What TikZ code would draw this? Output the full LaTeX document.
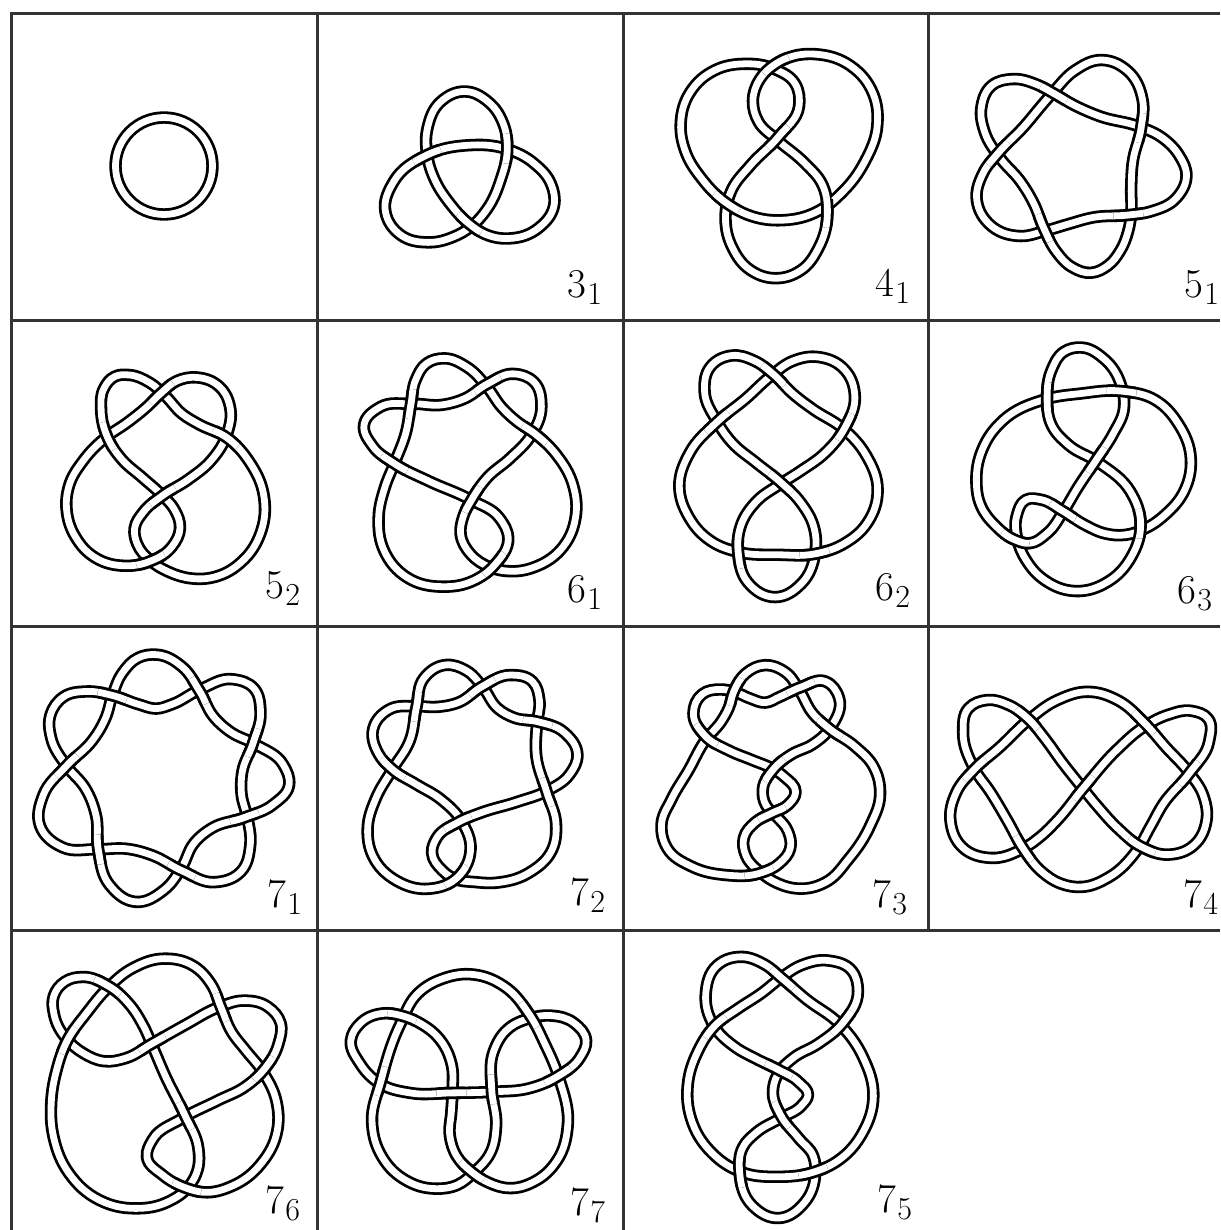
\documentclass[tikz,border=0pt]{standalone}
\newcount\kn
\def\oo{o}
\newcommand\klab[2]{{\fontsize{41}{41}\selectfont #1\kern1.5pt\raisebox{-7pt}{\fontsize{32}{32}\selectfont #2}}}
\tikzset{tubeout/.style={line width=12.4pt,black,line join=round},
  tubein/.style={line width=6.8pt,white,line join=round},
  gridline/.style={line width=3pt,draw=black!80},
  klabel/.style={anchor=base west,inner sep=0pt,outer sep=0pt}}
\newcommand\kget[2]{\csname k#1#2\endcsname}
% one relaxation pass over the points of the current knot
\newcommand\ksmooth[1]{%
  \foreach \i in {1,...,\kN}{%
    \pgfmathtruncatemacro\ip{mod(\i-2+\kN,\kN)+1}%
    \pgfmathtruncatemacro\iq{mod(\i,\kN)+1}%
    \edef\xa{\kget{X}{\ip}}\edef\ya{\kget{Y}{\ip}}%
    \edef\xb{\kget{X}{\i}}\edef\yb{\kget{Y}{\i}}%
    \edef\xc{\kget{X}{\iq}}\edef\yc{\kget{Y}{\iq}}%
    \pgfmathsetmacro\kpx{\xb+(#1)*((\xa+\xc)/2-\xb)}%
    \pgfmathsetmacro\kpy{\yb+(#1)*((\ya+\yc)/2-\yb)}%
    \expandafter\xdef\csname kA\i\endcsname{\kpx}%
    \expandafter\xdef\csname kB\i\endcsname{\kpy}%
  }%
  \foreach \i in {1,...,\kN}{%
    \expandafter\xdef\csname kX\i\endcsname{\kget{A}{\i}}%
    \expandafter\xdef\csname kY\i\endcsname{\kget{B}{\i}}%
  }%
}
% #1,#2 offset, #3 x scale, #4 points x/y or x/y/o (o = this strand passes over here)
\newcommand\knot[4]{%
  \global\kn=0 \gdef\kover{}%
  \foreach \x/\y/\kop in {#4}{%
    \global\advance\kn by 1
    \pgfmathsetmacro\kpx{#1+\x*#3}\pgfmathsetmacro\kpy{#2+\y*.33333}%
    \expandafter\xdef\csname kX\the\kn\endcsname{\kpx}%
    \expandafter\xdef\csname kY\the\kn\endcsname{\kpy}%
    \ifx\kop\oo\xdef\kover{\ifx\kover\empty\else\kover,\fi\the\kn}\fi
  }%
  \xdef\kN{\the\kn}%
  \ksmooth{.4}\ksmooth{-.42}%
  \foreach \i in {1,...,\kN}{%
    \pgfmathtruncatemacro\ip{mod(\i-2+\kN,\kN)+1}%
    \pgfmathtruncatemacro\iq{mod(\i,\kN)+1}%
    \edef\xa{\kget{X}{\ip}}\edef\ya{\kget{Y}{\ip}}%
    \edef\xb{\kget{X}{\i}}\edef\yb{\kget{Y}{\i}}%
    \edef\xc{\kget{X}{\iq}}\edef\yc{\kget{Y}{\iq}}%
    \pgfmathsetmacro\kla{veclen(\xb-\xa,\yb-\ya)}%
    \pgfmathsetmacro\klc{veclen(\xc-\xb,\yc-\yb)}%
    \pgfmathsetmacro\ktx{(\xb-\xa)/\kla*\klc+(\xc-\xb)/\klc*\kla}%
    \pgfmathsetmacro\kty{(\yb-\ya)/\kla*\klc+(\yc-\yb)/\klc*\kla}%
    \pgfmathsetmacro\ktl{veclen(\ktx,\kty)}%
    \pgfmathsetmacro\kux{\ktx/\ktl}\pgfmathsetmacro\kuy{\kty/\ktl}%
    \expandafter\xdef\csname kU\i\endcsname{\kux}%
    \expandafter\xdef\csname kV\i\endcsname{\kuy}%
    \expandafter\xdef\csname kL\i\endcsname{\klc}%
  }%
  \gdef\kP{}%
  \foreach \i in {1,...,\kN}{%
    \pgfmathtruncatemacro\iq{mod(\i,\kN)+1}%
    \edef\xb{\kget{X}{\i}}\edef\yb{\kget{Y}{\i}}%
    \edef\xc{\kget{X}{\iq}}\edef\yc{\kget{Y}{\iq}}%
    \edef\kh{\kget{L}{\i}}%
    \edef\ua{\kget{U}{\i}}\edef\va{\kget{V}{\i}}%
    \edef\ub{\kget{U}{\iq}}\edef\vb{\kget{V}{\iq}}%
    \pgfmathsetmacro\cax{\xb+\ua*\kh*.36}\pgfmathsetmacro\cay{\yb+\va*\kh*.36}%
    \pgfmathsetmacro\cbx{\xc-\ub*\kh*.36}\pgfmathsetmacro\cby{\yc-\vb*\kh*.36}%
    \expandafter\xdef\csname kS\i\endcsname{.. controls (\cax,\cay) and (\cbx,\cby) .. (\xc,\yc) }%
    \xdef\kP{\kP\kget{S}{\i}}%
  }%
  \edef\kdraw{\noexpand\draw[tubeout] (\kget{X}{1},\kget{Y}{1}) \kP -- cycle;
    \noexpand\draw[tubein] (\kget{X}{1},\kget{Y}{1}) \kP -- cycle;}%
  \kdraw
  \foreach \i in \kover {%
    \pgfmathtruncatemacro\ia{mod(\i-3+\kN,\kN)+1}%
    \pgfmathtruncatemacro\ib{mod(\i-2+\kN,\kN)+1}%
    \pgfmathtruncatemacro\ic{mod(\i,\kN)+1}%
    \edef\kseg{(\kget{X}{\ia},\kget{Y}{\ia}) \kget{S}{\ia}\kget{S}{\ib}\kget{S}{\i}\kget{S}{\ic}}%
    \edef\kdraw{\noexpand\begin{scope}
      \noexpand\clip (\kget{X}{\i},\kget{Y}{\i}) circle (15);
      \noexpand\draw[tubeout] \kseg;
      \noexpand\draw[tubein] \kseg;
      \noexpand\end{scope}}%
    \kdraw
  }%
}
\begin{document}
\begin{tikzpicture}[x=1pt,y=-1pt]
\useasboundingbox (0,0) rectangle (1220,1230);
\fill[white] (0,0) rectangle (1220,1230);
% grid
\draw[gridline] (1220,14) -- (11.5,14) -- (11.5,1230);
\draw[gridline] (11.5,320) -- (1220,320);
\draw[gridline] (11.5,626) -- (1220,626);
\draw[gridline] (11.5,930.5) -- (1220,930.5);
\draw[gridline] (317,14) -- (317,1230);
\draw[gridline] (623,14) -- (623,1230);
\draw[gridline] (928,14) -- (928,930.5);
% unknot
\coordinate (u0) at (164,166);
\draw[tubeout] (u0) circle (48.5);
\draw[tubein] (u0) circle (48.5);
% 3_1
\knot{317}{15}{.3903}{380/228,440/262,478/330,487/400/o,472/490,432/590,395/632,350/665,285/682,215/662,175/590,195/500,283/418/o,385/392,487/402,555/445,600/510,607/570,570/640,490/672,430/655,392/628/o,340/565,300/490,283/418,283/340,315/260}
% 4_1
\knot{317}{15}{.3903}{1275/118,1370/150,1425/240,1435/330,1405/440,1340/535,1290/585,1190/618,1110/600,1050/565/o,985/490,945/410,932/330,955/230,1020/165,1095/148,1170/160,1225/210,1238/270,1180/370/o,1110/450,1060/530,1047/610,1065/700,1110/765,1175/790,1240/765,1285/700,1308/590/o,1295/510,1250/445,1180/375,1130/320,1117/260,1135/190,1175/148/o,1220/125}
% 5_1
\knot{928}{15}{.33333}{520/135,600/165,645/260,640/335/o,612/440,610/520,610/590,600/650,575/710,540/750,490/775,430/755,385/710,347/640/o,315/560,280/500,215/430,170/350,160/280,190/210,255/192,330/210,375/235/o,440/270,510/305,640/335,700/368,752/420,775/480,750/550,660/590,610/600/o,490/605,420/630,350/645,280/665,190/635,143/555,170/470,205/420/o,290/335,345/265,375/235,440/165}
% 5_2
\knot{12}{320}{.33333}{350/165,415/188,462/230,510/282,560/315,645/350/o,710/425,758/530,745/640,690/725,610/770,540/775,470/755,415/722,375/670,368/625,395/575,450/527/o,530/478,600/420,645/340,655/270,625/200,555/172,490/185,450/218/o,400/265,345/310,283/350,215/420,170/500,165/570,190/650,250/715,340/737,415/723/o,480/680,505/625,485/565,450/527,390/470,330/420,285/350/o,268/270,275/205,310/170}
% 6_1
\knot{317}{320}{.33333}{380/115,450/140,510/200,555/265,600/305,652/340/o,720/405,770/500,775/590,740/680,660/740,570/752,525/742,460/705,430/640,440/590,465/540/o,510/470,580/415,640/350,675/260,650/185,590/160,510/192/o,440/238,380/255,285/252,190/258,138/315,170/380,232/430/o,330/482,465/540,545/595,577/650,530/738/o,470/780,380/800,270/775,200/690,185/590,205/500,232/430,268/340,282/252/o,295/180,330/130}
% 6_2
\knot{622}{320}{.33333}{330/105,400/125,455/163/o,510/220,570/268,665/325,730/405,770/510,735/610,665/670,578/703/o,470/702,350/697,270/665,200/590,172/500,200/400,288/303/o,370/240,450/165,510/125,590/110,670/150,700/230,668/322/o,610/400,530/455,478/492,400/545,355/620,352/700/o,372/785,462/835,540/790,578/700,578/630,535/545,478/490/o,400/425,330/370,288/305,245/215,265/140}
% 6_3
\knot{928}{320}{.33333}{455/83,530/115,578/195,588/270,555/340,505/420/o,450/500,405/575,360/640,300/670,265/660/o,200/615,160/560,145/480,165/390,220/300,360/235,450/225,585/212/o,680/240,750/310,790/420,770/510,710/585,650/625,590/645,530/640,470/615,405/573/o,340/540,295/537,265/590,268/655,295/720,350/780,440/815,540/785,610/710,637/610/o,610/515,510/425,420/375,372/320,358/230/o,370/150,410/95}
% 7_1
\knot{12}{625}{.38911}{370/88,440/125,480/195/o,520/280,560/320,622/355,700/420,712/480,670/540,600/577/o,510/610,470/650,435/730,395/790,315/835,250/780,220/672/o,218/570,190/490,140/425,100/340,100/270,130/215,195/200,255/210/o,330/240,370/250,410/240,480/195,570/160,620/190,640/260,620/355/o,590/440,590/510,605/577,612/660,590/740,520/775,435/735/o,360/690,300/672,220/670,130/672,70/600,80/510,140/422/o,210/345,240/280,258/210,285/140,325/100}
% 7_2
\knot{12}{625}{.38911}{1115/118,1170/140,1210/185,1250/255,1290/278,1350/290/o,1420/320,1455/390,1430/450,1380/495,1300/530,1200/565,1150/590/o,1090/640,1078/680,1110/740,1135/760,1190/770,1250/772,1330/745,1390/670,1398/600,1375/500/o,1345/400,1350/290,1355/230,1340/170,1280/148,1205/185/o,1150/235,1090/245,1040/245,970/250,925/310,945/390,975/430/o,1040/480,1100/520,1155/590,1180/670,1145/760/o,1070/790,990/770,925/690,915/610,935/520,975/435,1025/350,1040/245/o,1055/160}
% 7_3
\knot{622}{625}{.33333}{430/120,490/140,535/200,570/265,620/310/o,700/365,755/425,775/510,745/600,680/700,610/775,530/790,470/775,420/745,370/690,365/640,400/590,450/565/o,495/540,527/503,480/452,455/433,390/405,320/375,250/335/o,212/265,240/205,300/195,335/200,385/220,432/235,470/215,535/190/o,610/165,655/220,625/310,570/360,510/385,455/433/o,420/490,435/545,455/565,500/620,505/670,470/715,415/745/o,310/750,210/725,135/670,118/600,150/520,200/440,250/340,300/290,320/250,335/200/o,370/145}
% 7_4
\knot{928}{625}{.33333}{480/200,570/225,650/295/o,710/365,785/445,825/510,835/590,800/660,720/690,640/665/o,570/610,510/545,465/490,400/410,350/340,300/280/o,240/240,180/225,120/250,105/320,135/430,190/500,240/590,285/670/o,340/740,400/775,460/785,540/760,625/680,670/600,700/540,785/445/o,845/350,840/280,790/258,720/270,650/305,570/370,465/490/o,385/590,340/630,285/670,190/702,100/665,68/590,85/500,140/432/o,215/370,300/285,390/225}
% 7_6
\knot{12}{930}{.33333}{460/85,540/105,600/165,625/230/o,660/310,700/360,750/420,795/520,795/600,750/700,660/770,570/785,530/775/o,450/735,405/680,420/630,510/565,620/510,700/470,755/420/o,800/340,805/280,770/230,690/212,625/230,520/285,420/340/o,340/385,280/395,210/365,165/330,125/250,125/200,160/155,210/140,290/168/o,350/220,395/290,420/345,460/440,520/560/o,560/650,555/720,530/768,470/815,370/835,260/810,170/730,125/620,118/520,135/420,165/330/o,225/250,290/172,360/115}
% 7_7
\knot{317}{930}{.33333}{470/135,560/165,640/258/o,680/340,725/440,755/590,720/690,650/755,580/775,510/755,465/725/o,420/680,397/620,405/540,405/485,405/400,370/330,310/280,255/260/o,200/248,130/280,100/330,130/400,190/462,280/490,405/487/o,525/485,640/475,720/440/o,790/380,808/335,770/275,700/258,640/265,570/300,530/360,522/480/o,540/590,520/670,470/725,420/765,360/775,260/750,190/670,165/570,190/465/o,255/270,300/195,380/145}
% 7_5
\knot{622}{930}{.33333}{355/80,430/105,480/145/o,550/210,655/280,720/380,757/500,720/610,650/690,575/725/o,470/740,355/725,270/670,205/560,197/470,230/360,275/290/o,350/235,420/190,475/145,540/105,620/90,690/125,710/180,660/285/o,590/340,510/385,470/430,452/490,475/555/o,530/625,575/680,578/725,550/820,470/865,390/830,352/725/o,365/650,400/610,475/565,540/525,558/497,530/455,470/420/o,400/385,340/350,275/290,250/190,285/105}
% labels
\node[klabel] (l31) at (567,298) {\klab{3}{1}};
\node[klabel] (l41) at (875,297) {\klab{4}{1}};
\node[klabel] (l51) at (1184,298) {\klab{5}{1}};
\node[klabel] (l52) at (265,598) {\klab{5}{2}};
\node[klabel] (l61) at (567,602) {\klab{6}{1}};
\node[klabel] (l62) at (875,600) {\klab{6}{2}};
\node[klabel] (l63) at (1177,603) {\klab{6}{3}};
\node[klabel] (l71) at (267,907) {\klab{7}{1}};
\node[klabel] (l72) at (570,905) {\klab{7}{2}};
\node[klabel] (l73) at (872,907) {\klab{7}{3}};
\node[klabel] (l74) at (1183,907) {\klab{7}{4}};
\node[klabel] (l76) at (265,1213) {\klab{7}{6}};
\node[klabel] (l77) at (570,1215) {\klab{7}{7}};
\node[klabel] (l75) at (877,1212) {\klab{7}{5}};
\end{tikzpicture}
\end{document}
